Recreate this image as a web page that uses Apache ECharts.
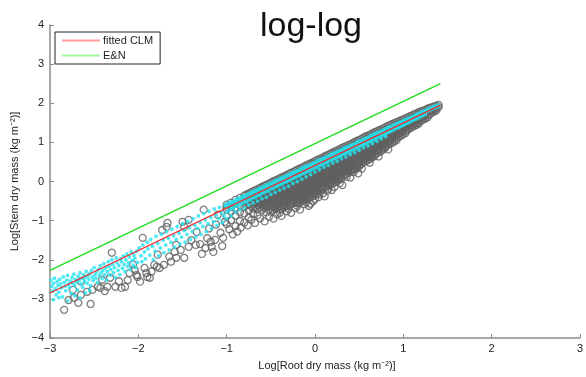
<!DOCTYPE html>
<html><head><meta charset="utf-8">
<script src="https://cdn.jsdelivr.net/npm/echarts@6/dist/echarts.min.js"></script>
<style>html,body{margin:0;padding:0;background:#fff}#c{width:586px;height:377px}</style>
</head><body><div id="c"></div>
<script>
// ---- data (log10 units) ----
const xTicks = [-3, -2, -1, 0, 1, 2, 3];
const yTicks = [-4, -3, -2, -1, 0, 1, 2, 3, 4];

const fittedX = [-3, 1.42];
const fittedY = [-2.85, 1.95];
const enX = [-3, 1.42];
const enY = [-2.27, 2.50];

// dense part of the grey cloud: [x, [y values]]
const grayDenseColumns = [
[1.40,[1.96,1.90]],
[1.375,[1.94,1.87,1.82]],
[1.35,[1.92,1.85,1.79]],
[1.325,[1.90,1.82,1.76]],
[1.30,[1.88,1.80,1.72]],
[1.275,[1.86,1.78,1.70,1.64]],
[1.25,[1.83,1.76,1.68,1.61]],
[1.225,[1.81,1.73,1.66,1.58]],
[1.20,[1.79,1.71,1.63,1.55]],
[1.175,[1.77,1.69,1.61,1.53,1.48]],
[1.15,[1.74,1.66,1.58,1.50,1.45]],
[1.125,[1.72,1.64,1.56,1.48,1.42]],
[1.10,[1.69,1.61,1.53,1.45,1.39]],
[1.075,[1.67,1.59,1.51,1.43,1.36]],
[1.05,[1.64,1.56,1.48,1.40,1.32]],
[1.025,[1.62,1.54,1.46,1.38,1.30,1.24]],
[1.00,[1.59,1.51,1.43,1.35,1.27,1.21]],
[0.975,[1.57,1.49,1.41,1.33,1.25,1.17]],
[0.95,[1.54,1.46,1.38,1.30,1.22,1.14]],
[0.925,[1.52,1.44,1.36,1.28,1.20,1.12,1.06]],
[0.90,[1.49,1.41,1.33,1.25,1.17,1.09,1.03]],
[0.875,[1.47,1.39,1.31,1.23,1.15,1.07,0.99]],
[0.85,[1.44,1.36,1.28,1.20,1.12,1.04,0.96]],
[0.825,[1.42,1.34,1.26,1.18,1.10,1.02,0.94]],
[0.80,[1.39,1.31,1.23,1.15,1.07,0.99,0.91,0.87]],
[0.775,[1.36,1.28,1.20,1.12,1.04,0.96,0.88,0.82]],
[0.75,[1.33,1.25,1.17,1.09,1.01,0.93,0.85,0.78]],
[0.725,[1.31,1.23,1.15,1.07,0.99,0.91,0.83,0.75]],
[0.70,[1.28,1.20,1.12,1.04,0.96,0.88,0.80,0.72]],
[0.675,[1.26,1.18,1.10,1.02,0.94,0.86,0.78,0.70,0.65]],
[0.65,[1.23,1.15,1.07,0.99,0.91,0.83,0.75,0.67,0.62]],
[0.625,[1.20,1.12,1.04,0.96,0.88,0.80,0.72,0.64,0.58]],
[0.60,[1.17,1.09,1.01,0.93,0.85,0.77,0.69,0.61,0.55]],
[0.575,[1.15,1.07,0.99,0.91,0.83,0.75,0.67,0.59,0.52]],
[0.55,[1.12,1.04,0.96,0.88,0.80,0.72,0.64,0.56,0.49]],
[0.525,[1.09,1.01,0.93,0.85,0.77,0.69,0.61,0.53,0.45]],
[0.50,[1.06,0.98,0.90,0.82,0.74,0.66,0.58,0.50,0.42,0.38]],
[0.475,[1.04,0.96,0.88,0.80,0.72,0.64,0.56,0.48,0.40,0.34]],
[0.45,[1.01,0.93,0.85,0.77,0.69,0.61,0.53,0.45,0.37,0.31]],
[0.425,[0.98,0.90,0.82,0.74,0.66,0.58,0.50,0.42,0.34,0.28]],
[0.40,[0.95,0.87,0.79,0.71,0.63,0.55,0.47,0.39,0.31,0.25]],
[0.375,[0.93,0.85,0.77,0.69,0.61,0.53,0.45,0.37,0.29,0.22]],
[0.35,[0.90,0.82,0.74,0.66,0.58,0.50,0.42,0.34,0.26,0.18]],
[0.325,[0.88,0.80,0.72,0.64,0.56,0.48,0.40,0.32,0.24,0.16]],
[0.30,[0.85,0.77,0.69,0.61,0.53,0.45,0.37,0.29,0.21,0.13,0.08]],
[0.275,[0.82,0.74,0.66,0.58,0.50,0.42,0.34,0.26,0.18,0.10,0.04]],
[0.25,[0.79,0.71,0.63,0.55,0.47,0.39,0.31,0.23,0.15,0.07,0.01]],
[0.225,[0.77,0.69,0.61,0.53,0.45,0.37,0.29,0.21,0.13,0.05,-0.02]],
[0.20,[0.74,0.66,0.58,0.50,0.42,0.34,0.26,0.18,0.10,0.02,-0.05]],
[0.175,[0.71,0.63,0.55,0.47,0.39,0.31,0.23,0.15,0.07,-0.01,-0.08]],
[0.15,[0.68,0.60,0.52,0.44,0.36,0.28,0.20,0.12,0.04,-0.04,-0.11]],
[0.125,[0.66,0.58,0.50,0.42,0.34,0.26,0.18,0.10,0.02,-0.06,-0.14]],
[0.10,[0.63,0.55,0.47,0.39,0.31,0.23,0.15,0.07,-0.01,-0.09,-0.17]],
[0.075,[0.60,0.52,0.44,0.36,0.28,0.20,0.12,0.04,-0.04,-0.12,-0.20]],
[0.05,[0.57,0.49,0.41,0.33,0.25,0.17,0.09,0.01,-0.07,-0.15,-0.23]],
[0.025,[0.55,0.47,0.39,0.31,0.23,0.15,0.07,-0.01,-0.09,-0.17,-0.25,-0.31]],
[0.00,[0.52,0.44,0.36,0.28,0.20,0.12,0.04,-0.04,-0.12,-0.20,-0.28,-0.34]],
[-0.025,[0.49,0.41,0.33,0.25,0.17,0.09,0.01,-0.07,-0.15,-0.23,-0.31,-0.37]],
[-0.05,[0.46,0.38,0.30,0.22,0.14,0.06,-0.02,-0.10,-0.18,-0.26,-0.34,-0.40]],
[-0.075,[0.44,0.36,0.28,0.20,0.12,0.04,-0.04,-0.12,-0.20,-0.28,-0.36,-0.42]],
[-0.10,[0.41,0.33,0.25,0.17,0.09,0.01,-0.07,-0.15,-0.23,-0.31,-0.39,-0.45]],
[-0.125,[0.38,0.30,0.22,0.14,0.06,-0.02,-0.10,-0.18,-0.26,-0.34,-0.42,-0.48]],
[-0.15,[0.35,0.27,0.19,0.11,0.03,-0.05,-0.13,-0.21,-0.29,-0.37,-0.45,-0.50]],
[-0.175,[0.33,0.25,0.17,0.09,0.01,-0.07,-0.15,-0.23,-0.31,-0.39,-0.47,-0.53]],
[-0.20,[0.30,0.22,0.14,0.06,-0.02,-0.10,-0.18,-0.26,-0.34,-0.42,-0.50,-0.55]],
[-0.225,[0.27,0.19,0.11,0.03,-0.05,-0.13,-0.21,-0.29,-0.37,-0.45,-0.53]],
[-0.25,[0.24,0.16,0.08,0.00,-0.08,-0.16,-0.24,-0.32,-0.40,-0.48,-0.56]],
[-0.275,[0.22,0.14,0.06,-0.02,-0.10,-0.18,-0.26,-0.34,-0.42,-0.50,-0.58]],
[-0.30,[0.19,0.11,0.03,-0.05,-0.13,-0.21,-0.29,-0.37,-0.45,-0.53,-0.61]],
[-0.325,[0.16,0.08,0.00,-0.08,-0.16,-0.24,-0.32,-0.40,-0.48,-0.56,-0.63]],
[-0.35,[0.13,0.05,-0.03,-0.11,-0.19,-0.27,-0.35,-0.43,-0.51,-0.59,-0.66]],
[-0.375,[0.11,0.03,-0.05,-0.13,-0.21,-0.29,-0.37,-0.45,-0.53,-0.61,-0.69]],
[-0.40,[0.08,0.00,-0.08,-0.16,-0.24,-0.32,-0.40,-0.48,-0.56,-0.64,-0.72]],
[-0.425,[0.05,-0.03,-0.11,-0.19,-0.27,-0.35,-0.43,-0.51,-0.59,-0.67]],
[-0.45,[0.02,-0.06,-0.14,-0.22,-0.30,-0.38,-0.46,-0.54,-0.62,-0.70]],
[-0.475,[0.00,-0.08,-0.16,-0.24,-0.32,-0.40,-0.48,-0.56,-0.64,-0.73]],
[-0.50,[-0.03,-0.11,-0.19,-0.27,-0.35,-0.43,-0.51,-0.59,-0.67,-0.77]],
[-0.525,[-0.06,-0.14,-0.22,-0.30,-0.38,-0.46,-0.54,-0.62,-0.72]],
[-0.55,[-0.09,-0.17,-0.25,-0.33,-0.41,-0.49,-0.57,-0.65,-0.79]],
[-0.575,[-0.11,-0.19,-0.27,-0.35,-0.43,-0.51,-0.59,-0.68]],
[-0.60,[-0.14,-0.22,-0.30,-0.38,-0.46,-0.54,-0.62,-0.73]],
[-0.625,[-0.17,-0.25,-0.33,-0.41,-0.49,-0.57,-0.66]],
[-0.65,[-0.20,-0.28,-0.36,-0.44,-0.52,-0.60,-0.71,-0.86]],
[-0.675,[-0.22,-0.30,-0.38,-0.46,-0.55,-0.64]],
[-0.70,[-0.25,-0.33,-0.41,-0.49,-0.57,-0.69,-0.83]],
[-0.725,[-0.28,-0.36,-0.44,-0.53,-0.63]],
[-0.75,[-0.31,-0.39,-0.47,-0.57,-0.74,-0.92]],
[-0.775,[-0.33,-0.42,-0.51,-0.60]],
[-0.80,[-0.36,-0.45,-0.54,-0.65,-0.82]],
[-0.85,[-0.42,-0.51,-0.61,-0.79,-1.01]],
[-0.90,[-0.47,-0.57,-0.69,-0.87,-1.14]],
[-0.95,[-0.54,-0.65,-0.77,-0.99]],
[-1.00,[-0.59,-0.71,-0.89,-1.09]]
];

// scattered grey circles
const graySparse = [
[-2.84,-3.28],[-2.79,-3.03],[-2.73,-2.97],[-2.74,-2.77],[-2.65,-2.90],[-2.65,-2.56],[-2.68,-3.10],
[-2.54,-3.13],[-2.52,-2.77],[-2.46,-2.69],[-2.43,-2.72],[-2.41,-2.51],[-2.35,-2.69],[-2.32,-2.46],
[-2.30,-1.82],[-2.26,-2.69],[-2.19,-2.72],[-2.15,-2.69],[-2.10,-2.34],[-2.04,-2.26],[-2.02,-2.39],
[-2.01,-2.44],[-1.98,-2.56],[-1.95,-1.44],[-1.93,-2.21],[-1.91,-2.34],[-1.90,-2.44],[-1.87,-2.46],
[-1.82,-2.13],[-1.79,-2.18],[-1.78,-1.87],[-1.76,-2.21],[-1.73,-1.24],[-1.71,-2.13],[-1.68,-1.16],
[-1.67,-1.06],[-1.63,-2.05],[-1.59,-1.80],[-1.57,-1.95],[-1.57,-1.62],[-1.50,-1.03],[-1.48,-1.16],
[-1.48,-1.95],[-1.43,-1.67],[-1.43,-0.98],[-1.35,-1.62],[-1.34,-1.29],[-1.28,-1.85],[-1.26,-0.72],
[-1.24,-1.70],[-1.22,-1.45],[-1.18,-1.54],[-1.17,-1.67],[-1.13,-1.49],[-1.10,-0.85],[-1.07,-1.31],
[-1.04,-1.44],[-1.02,-1.03],[-1.00,-0.65],[-0.97,-1.22],[-0.93,-1.35],[-0.88,-1.28],[-0.84,-1.18],
[-0.80,-1.05],[-0.76,-1.12],[-0.72,-0.98],[-0.68,-1.06],[-0.62,-0.94],[-0.57,-1.02],[-0.52,-0.90],
[-0.47,-0.95],[-0.43,-0.84],[-0.38,-0.88],[-0.32,-0.76],[-0.27,-0.80],[-0.22,-0.68],[-0.17,-0.72],
[-0.12,-0.58],[-0.07,-0.62],[-0.02,-0.50],[0.04,-0.40],[0.09,-0.30],[0.14,-0.24],[0.22,-0.14],
[0.28,-0.04],[0.36,0.12],[0.44,0.24],[0.53,0.33],[0.62,0.48],[0.72,0.64],[0.83,0.82],
[-2.58,-2.82],[-2.38,-2.80],[-2.22,-2.55],[-2.12,-2.52],[-2.06,-2.12],[-1.85,-2.30],[-1.65,-1.92],
[-1.52,-1.75],[-1.40,-1.50],[-1.30,-1.60],[-1.20,-1.20],[-1.15,-1.80],[-1.12,-1.10],[-1.05,-1.65],
[0.00,-0.45],[0.05,-0.33],[-0.10,-0.53],[0.15,-0.19],[0.19,-0.22],[-0.20,-0.62],[-0.30,-0.70],
[-0.40,-0.80],[0.11,-0.38],[-0.05,-0.57],[0.31,-0.09],[0.40,0.10],[0.49,0.21]
];

// cyan dots, scattered left part
const cyanSparse = [
[-2.99,-2.52],[-2.98,-2.68],[-2.97,-2.80],[-2.96,-2.60],[-2.95,-2.47],[-2.94,-2.74],[-2.93,-2.90],
[-2.92,-2.56],[-2.91,-2.66],[-2.90,-2.83],[-2.89,-2.50],[-2.88,-2.62],[-2.87,-2.72],[-2.86,-2.95],
[-2.85,-2.44],[-2.84,-2.58],[-2.83,-2.68],[-2.82,-2.79],[-2.81,-2.52],[-2.80,-2.40],[-2.79,-2.63],
[-2.78,-2.71],[-2.77,-2.55],[-2.76,-2.86],[-2.75,-2.46],[-2.74,-2.60],[-2.73,-2.37],[-2.72,-2.66],
[-2.71,-2.50],[-2.70,-2.57],[-2.69,-2.77],[-2.68,-2.42],[-2.67,-2.53],[-2.66,-2.33],[-2.65,-2.62],
[-2.64,-2.47],[-2.63,-2.70],[-2.62,-2.38],[-2.61,-2.55],[-2.60,-2.45],[-2.59,-2.30],[-2.58,-2.60],
[-2.57,-2.41],[-2.56,-2.50],[-2.55,-2.35],[-2.54,-2.66],[-2.53,-2.27],[-2.52,-2.44],[-2.51,-2.53],
[-2.50,-2.20],[-2.49,-2.38],[-2.48,-2.47],[-2.47,-2.31],[-2.46,-2.58],[-2.45,-2.24],[-2.44,-2.40],
[-2.43,-2.15],[-2.42,-2.33],[-2.41,-2.48],[-2.40,-2.27],[-2.39,-2.10],[-2.38,-2.38],[-2.37,-2.21],
[-2.36,-2.52],[-2.35,-2.30],[-2.34,-2.05],[-2.33,-2.17],[-2.32,-2.40],[-2.31,-2.25],[-2.30,-2.00],
[-2.29,-2.12],[-2.28,-2.33],[-2.27,-2.20],[-2.26,-2.45],[-2.25,-1.95],[-2.24,-2.08],[-2.23,-2.27],
[-2.22,-2.15],[-2.21,-2.38],[-2.20,-1.98],[-2.19,-2.05],[-2.18,-2.22],[-2.17,-1.90],[-2.16,-2.12],
[-2.15,-2.30],[-2.14,-2.00],[-2.13,-1.85],[-2.12,-2.17],[-2.11,-2.08],[-2.10,-1.93],[-2.09,-2.25],
[-2.08,-1.80],[-2.07,-2.02],[-2.06,-2.14],[-2.05,-1.88],[-2.04,-1.96],[-2.03,-2.20],[-2.02,-1.78],
[-2.01,-2.07],[-2.96,-3.02],[-2.90,-2.97],[-2.80,-3.05],[-2.72,-2.92],[-2.66,-2.98],[-2.60,-2.85],
[-2.55,-2.78],
[-1.99,-1.70],[-1.97,-1.90],[-1.96,-2.05],[-1.95,-1.62],[-1.93,-1.80],[-1.92,-1.98],[-1.90,-1.55],
[-1.89,-1.72],[-1.87,-1.88],[-1.86,-1.48],[-1.84,-1.66],[-1.83,-2.00],[-1.81,-1.78],[-1.80,-1.40],
[-1.78,-1.58],[-1.77,-1.90],[-1.75,-1.70],[-1.74,-1.35],[-1.72,-1.50],[-1.71,-1.82],[-1.69,-1.62],
[-1.68,-1.28],[-1.66,-1.45],[-1.65,-1.75],[-1.63,-1.55],[-1.62,-1.22],[-1.60,-1.38],[-1.59,-1.68],
[-1.57,-1.48],[-1.56,-1.15],[-1.54,-1.32],[-1.53,-1.60],[-1.51,-1.42],[-1.50,-1.08],[-1.48,-1.25],
[-1.47,-1.55],[-1.45,-1.35],[-1.44,-1.02],[-1.42,-1.18],[-1.41,-1.48],[-1.39,-1.28],[-1.38,-0.95],
[-1.36,-1.12],[-1.35,-1.42],[-1.33,-1.20],[-1.32,-0.88],[-1.30,-1.05],[-1.29,-1.35],[-1.27,-1.15],
[-1.26,-0.82],[-1.24,-0.98],[-1.23,-1.28],[-1.21,-1.08],[-1.20,-0.76],[-1.18,-0.92],[-1.17,-1.20],
[-1.15,-1.02],[-1.14,-0.70],[-1.12,-0.86],[-1.11,-1.12],[-1.09,-0.95],[-1.08,-0.66],[-1.06,-0.80],
[-1.05,-1.05],[-1.03,-0.88],[-1.02,-0.60]
];

// cyan dense band: [x, [y values]]
const cyanBandColumns = [
[-1.00,[-0.58,-0.66,-0.79,-0.95]],[-0.975,[-0.55,-0.63,-0.74]],[-0.95,[-0.52,-0.61,-0.70,-0.88]],
[-0.925,[-0.50,-0.58,-0.68]],[-0.90,[-0.47,-0.55,-0.62,-0.78]],[-0.875,[-0.44,-0.53,-0.63]],
[-0.85,[-0.42,-0.50,-0.58,-0.72]],[-0.825,[-0.39,-0.47,-0.57]],[-0.80,[-0.36,-0.44,-0.52,-0.68]],
[-0.775,[-0.34,-0.42,-0.52]],[-0.75,[-0.31,-0.39,-0.47,-0.60]],[-0.725,[-0.28,-0.36,-0.46]],
[-0.70,[-0.25,-0.33,-0.41,-0.55]],[-0.675,[-0.23,-0.31,-0.41]],[-0.65,[-0.20,-0.28,-0.36,-0.50]],
[-0.625,[-0.17,-0.25,-0.35]],[-0.60,[-0.15,-0.22,-0.30,-0.44]],[-0.575,[-0.12,-0.20,-0.29]],
[-0.55,[-0.09,-0.17,-0.25,-0.40]],[-0.525,[-0.07,-0.15,-0.24]],[-0.50,[-0.04,-0.12,-0.19,-0.33]],
[-0.475,[-0.01,-0.09,-0.18]],[-0.45,[0.02,-0.06,-0.14,-0.28]],[-0.425,[0.04,-0.04,-0.12]],
[-0.40,[0.07,-0.01,-0.08,-0.22]],[-0.375,[0.10,0.02,-0.07]],[-0.35,[0.12,0.05,-0.03,-0.17]],
[-0.325,[0.15,0.07,-0.01]],[-0.30,[0.18,0.10,0.02,-0.12]],[-0.275,[0.21,0.13,0.04]],
[-0.25,[0.23,0.15,0.08,-0.05]],[-0.225,[0.26,0.18,0.10]],[-0.20,[0.28,0.21,0.13,0.00]],
[-0.175,[0.31,0.24,0.15]],[-0.15,[0.34,0.26,0.19,0.06]],[-0.125,[0.37,0.29,0.21]],
[-0.10,[0.39,0.31,0.24,0.12]],[-0.075,[0.42,0.34,0.26]],[-0.05,[0.44,0.37,0.29,0.18]],
[-0.025,[0.47,0.40,0.32]],[0.00,[0.49,0.42,0.35,0.24]],[0.025,[0.53,0.45,0.37]],
[0.05,[0.55,0.47,0.40,0.30]],[0.075,[0.58,0.50,0.43]],[0.10,[0.60,0.53,0.45,0.36]],
[0.125,[0.63,0.56,0.48]],[0.15,[0.65,0.58,0.51,0.41]],[0.175,[0.69,0.61,0.54]],
[0.20,[0.71,0.63,0.56,0.47]],[0.225,[0.74,0.66,0.59]],[0.25,[0.76,0.69,0.62,0.52]],
[0.275,[0.79,0.72,0.64]],[0.30,[0.81,0.74,0.67,0.58]],[0.325,[0.85,0.77,0.70]],
[0.35,[0.87,0.80,0.72,0.63]],[0.375,[0.90,0.82,0.75]],[0.40,[0.92,0.85,0.78,0.69]],
[0.425,[0.95,0.88,0.81]],[0.45,[0.97,0.90,0.83,0.74]],[0.475,[1.01,0.93,0.86]],
[0.50,[1.03,0.96,0.89,0.80]],[0.525,[1.06,0.99,0.92]],[0.55,[1.08,1.01,0.94,0.86]],
[0.575,[1.11,1.04,0.97]],[0.60,[1.13,1.07,1.00,0.91]],[0.625,[1.17,1.10,1.03]],
[0.65,[1.19,1.12,1.05,0.97]],[0.675,[1.22,1.15,1.08]],[0.70,[1.24,1.17,1.11,1.03]],
[0.725,[1.27,1.20,1.14]],[0.75,[1.29,1.23,1.16,1.09]],[0.775,[1.32,1.26,1.19]],
[0.80,[1.35,1.28,1.22,1.15]],[0.825,[1.38,1.31,1.25]],[0.85,[1.40,1.33,1.27]],
[0.875,[1.43,1.36,1.30]],[0.90,[1.45,1.39,1.33]],[0.925,[1.48,1.42,1.36]],
[0.95,[1.51,1.44,1.38]],[0.975,[1.53,1.47,1.41]],[1.00,[1.56,1.50,1.44]],
[1.025,[1.59,1.53,1.47]],[1.05,[1.61,1.55,1.49]],[1.075,[1.64,1.58,1.52]],
[1.10,[1.66,1.60,1.55]],[1.125,[1.69,1.63,1.58]],[1.15,[1.72,1.66,1.60]],
[1.175,[1.74,1.69,1.63]],[1.20,[1.77,1.71,1.66]],[1.225,[1.80,1.74,1.69]],
[1.25,[1.82,1.77,1.72]],[1.275,[1.85,1.80]],[1.30,[1.87,1.82]],
[1.325,[1.90,1.85]],[1.35,[1.92,1.87]],[1.375,[1.94,1.90]],[1.40,[1.96,1.92]]
];

// ---- build ----
function expand(cols){const out=[];cols.forEach(c=>c[1].forEach(y=>out.push([c[0],y])));return out;}
const grayPts = graySparse.concat(expand(grayDenseColumns));
const cyanPts = cyanSparse.concat(expand(cyanBandColumns));
const fittedPts = fittedX.map((x,i)=>[x,fittedY[i]]);
const enPts = enX.map((x,i)=>[x,enY[i]]);

const FONT = 'Liberation Sans, Arial, Helvetica, sans-serif';
const fmt = v => (v < 0 ? '\u2212' + Math.abs(v) : String(v));

const chart = echarts.init(document.getElementById('c'), null, {renderer:'canvas'});
chart.setOption({
  animation:false,
  backgroundColor:'#fff',
  title:{text:'log-log', left:306, top:5, textAlign:'center',
    textStyle:{fontFamily:FONT, fontSize:34, fontWeight:'normal', color:'#111'}},
  legend:{
    left:55, top:32, orient:'vertical', itemWidth:38, itemHeight:2, itemGap:4,
    padding:[3,7,3,7], borderColor:'#222', borderWidth:1, backgroundColor:'#fff',
    textStyle:{fontFamily:FONT, fontSize:11, color:'#222', padding:[0,0,0,-2]},
    data:[
      {name:'fitted CLM', icon:'rect', itemStyle:{color:'#ff9c9c'}},
      {name:'E&N', icon:'rect', itemStyle:{color:'#a4f5a4'}}
    ]
  },
  grid:{left:50, right:-1, top:25, bottom:39, containLabel:false},
  xAxis:{type:'value', min:-3, max:3, interval:1,
    name:'Log[Root dry mass (kg m\u207B\u00B2)]', nameLocation:'middle', nameGap:22,
    nameTextStyle:{fontFamily:FONT, fontSize:11, color:'#222', padding:[0,0,0,24]},
    axisLine:{onZero:false, lineStyle:{color:'#8a8a8a', width:1.5}},
    axisTick:{inside:true, length:4, lineStyle:{color:'#8a8a8a'}},
    axisLabel:{fontFamily:FONT, fontSize:11, color:'#222', margin:5, formatter:fmt},
    splitLine:{show:false}},
  yAxis:{type:'value', min:-4, max:4, interval:1,
    name:'Log[Stem dry mass (kg m\u207B\u00B2)]', nameLocation:'middle', nameGap:16,
    nameTextStyle:{fontFamily:FONT, fontSize:11, color:'#222'},
    axisLine:{onZero:false, lineStyle:{color:'#8a8a8a', width:1.5}},
    axisTick:{inside:true, length:4, lineStyle:{color:'#8a8a8a'}},
    axisLabel:{fontFamily:FONT, fontSize:11, color:'#222', margin:6, formatter:fmt},
    splitLine:{show:false}},
  series:[
    {type:'scatter', name:'data', data:grayPts, symbol:'circle', symbolSize:7, silent:true,
      itemStyle:{color:'rgba(0,0,0,0)', borderColor:'#5f5f5f', borderWidth:1.3}, z:2},
    {type:'scatter', name:'cyan', data:cyanPts, symbol:'circle', symbolSize:3.8, silent:true,
      itemStyle:{color:'#22e4f0'}, z:3},
    {type:'line', name:'fitted CLM', data:fittedPts, symbol:'none', silent:true,
      lineStyle:{color:'#f02828', width:1.3}, z:4},
    {type:'line', name:'E&N', data:enPts, symbol:'none', silent:true,
      lineStyle:{color:'#22dd22', width:1.5}, z:4}
  ]
});
</script></body></html>
